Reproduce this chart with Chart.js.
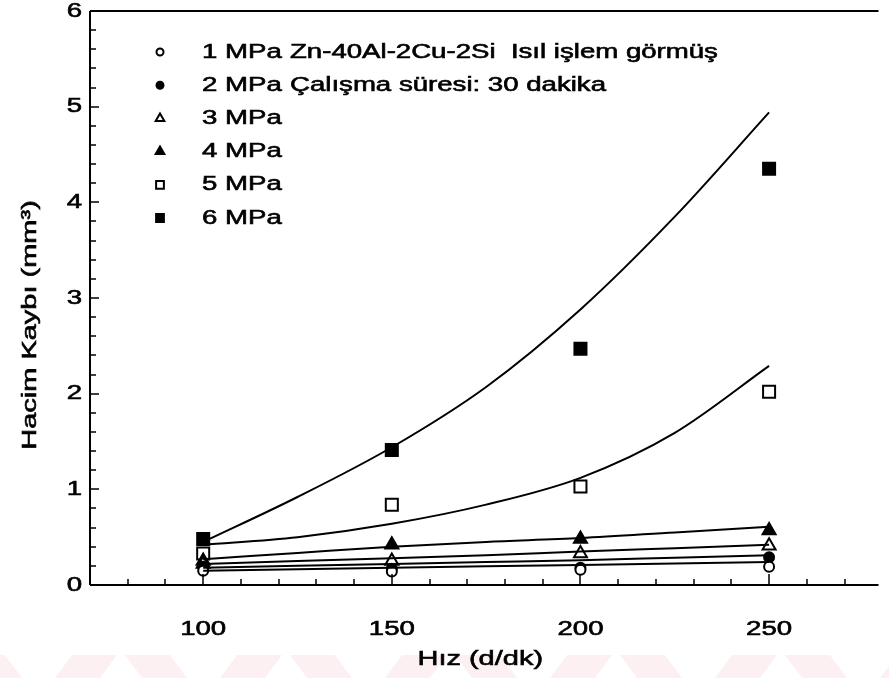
<!DOCTYPE html>
<html>
<head>
<meta charset="utf-8">
<script src="https://cdn.jsdelivr.net/npm/chart.js@4.4.1/dist/chart.umd.min.js"></script>
<style>
  html, body { margin: 0; padding: 0; background: #fff; overflow: hidden; }
  #wrap { position: relative; width: 889px; height: 678px; }
</style>
</head>
<body>
<div id="wrap"><canvas id="c" width="889" height="678"></canvas></div>
<script>
// Speed (d/dk) at which each load was tested
const hiz = [100, 150, 200, 250];

// Measured volume loss (mm3) per load
const mpa1 = [0.15, 0.14, 0.16, 0.19];
const mpa2 = [0.19, 0.17, 0.18, 0.29];
const mpa3 = [0.22, 0.25, 0.33, 0.41];
const mpa4 = [0.25, 0.42, 0.48, 0.57];
const mpa5 = [0.33, 0.84, 1.03, 2.02];
const mpa6 = [0.48, 1.41, 2.47, 4.35];

// Fitted trend curves, sampled along the speed axis
const fitHiz = [100, 125, 150, 175, 200, 225, 250];
const fit1 = [0.15, 0.165, 0.18, 0.195, 0.21, 0.225, 0.24];
const fit2 = [0.18, 0.20, 0.22, 0.24, 0.26, 0.285, 0.31];
const fit3 = [0.22, 0.25, 0.28, 0.31, 0.35, 0.385, 0.42];
const fit4 = [0.27, 0.335, 0.40, 0.45, 0.49, 0.55, 0.61];
const fit5 = [0.42, 0.50, 0.64, 0.84, 1.12, 1.59, 2.29];
const fit6 = [0.45, 0.92, 1.44, 2.07, 2.88, 3.85, 4.94];

// Axis labelling
const xTickLabels = [100, 150, 200, 250];
const yTickLabels = [0, 1, 2, 3, 4, 5, 6];
const seriesLabels = ['1 MPa', '2 MPa', '3 MPa', '4 MPa', '5 MPa', '6 MPa'];
const noteLines = ['Zn-40Al-2Cu-2Si  Isıl işlem görmüş', 'Çalışma süresi: 30 dakika'];
const xTitle = 'Hız (d/dk)';
const yTitle = 'Hacim Kaybı (mm³)';

const FONT = '"Liberation Sans", Arial, sans-serif';
const INK = '#000';
const TEXT_SIZE = 20;     // px
const TEXT_WIDEN = 1.38;  // the figure's lettering runs wide

const pts = (xs, ys) => xs.map((x, i) => ({ x: x, y: ys[i] }));

const markerStyles = [
  { pointStyle: 'circle',   radius: 5,   fill: '#fff' },
  { pointStyle: 'circle',   radius: 5,   fill: INK },
  { pointStyle: 'triangle', radius: 7.5, fill: '#fff' },
  { pointStyle: 'triangle', radius: 7.5, fill: INK },
  { pointStyle: 'rect',     radius: 8.5, fill: '#fff' },
  { pointStyle: 'rect',     radius: 8.5, fill: INK }
];

const measured = [mpa1, mpa2, mpa3, mpa4, mpa5, mpa6];
const fits = [fit1, fit2, fit3, fit4, fit5, fit6];

const datasets = [];
fits.forEach((f, i) => {
  datasets.push({
    label: 'fit ' + seriesLabels[i],
    data: pts(fitHiz, f),
    showLine: true,
    borderColor: INK,
    borderWidth: 2,
    pointRadius: 0,
    cubicInterpolationMode: 'monotone',
    fill: false,
    isFit: true
  });
});
measured.forEach((m, i) => {
  const s = markerStyles[i];
  datasets.push({
    label: seriesLabels[i],
    data: pts(hiz, m),
    showLine: false,
    pointStyle: s.pointStyle,
    pointRadius: s.radius,
    pointBackgroundColor: s.fill,
    pointBorderColor: INK,
    pointBorderWidth: 2,
    isFit: false
  });
});

// Widened text helper (a thin outline gives the printed weight)
function wideText(ctx, str, x, y, align, rotate, size) {
  ctx.save();
  ctx.translate(x, y);
  if (rotate) ctx.rotate(-Math.PI / 2);
  ctx.scale(TEXT_WIDEN, 1);
  ctx.font = (size || TEXT_SIZE) + 'px ' + FONT;
  ctx.fillStyle = INK;
  ctx.strokeStyle = INK;
  ctx.lineWidth = 0.6;
  ctx.textAlign = align;
  ctx.textBaseline = 'middle';
  ctx.fillText(str, 0, 0);
  ctx.strokeText(str, 0, 0);
  ctx.restore();
}

// Faint pink band along the bottom edge of the sheet
const sheetPlugin = {
  id: 'sheet',
  beforeDraw(chart) {
    const ctx = chart.ctx;
    ctx.save();
    ctx.fillStyle = 'rgba(236, 120, 135, 0.11)';
    const top = 655, bottom = 678;
    for (let bx = -40; bx < 900; bx += 165) {
      ctx.beginPath();
      ctx.moveTo(bx, top); ctx.lineTo(bx + 45, top);
      ctx.lineTo(bx + 62, bottom); ctx.lineTo(bx + 17, bottom);
      ctx.closePath(); ctx.fill();
      ctx.beginPath();
      ctx.moveTo(bx + 95, bottom); ctx.lineTo(bx + 140, bottom);
      ctx.lineTo(bx + 157, top); ctx.lineTo(bx + 112, top);
      ctx.closePath(); ctx.fill();
    }
    ctx.restore();
  }
};

// Axis frame with inward tick marks, tick labels, titles and legend block
const framePlugin = {
  id: 'frame',
  afterDatasetsDraw(chart) {
    const { ctx, chartArea: a, scales } = chart;
    const xs = scales.x, ys = scales.y;
    ctx.save();
    ctx.strokeStyle = INK;
    ctx.lineWidth = 2;
    ctx.beginPath();
    ctx.moveTo(a.left, a.top); ctx.lineTo(a.right, a.top);
    ctx.moveTo(a.left, a.top); ctx.lineTo(a.left, a.bottom);
    ctx.moveTo(a.left, a.bottom); ctx.lineTo(a.right, a.bottom);
    ctx.stroke();

    ctx.lineWidth = 1.5;
    ctx.beginPath();
    for (let v = 70; v <= xs.max; v += 10) {
      const px = Math.round(xs.getPixelForValue(v));
      const major = xTickLabels.includes(v);
      ctx.moveTo(px, a.bottom);
      ctx.lineTo(px, a.bottom - (major ? 11 : 6));
    }
    for (let k = 0; k <= 30; k++) {
      const v = k / 5;
      const py = Math.round(ys.getPixelForValue(v));
      const major = k % 5 === 0;
      ctx.moveTo(a.left, py);
      ctx.lineTo(a.left + (major ? 9 : 6), py);
    }
    ctx.stroke();

    // tick labels
    xTickLabels.forEach(v => wideText(ctx, String(v), xs.getPixelForValue(v), a.bottom + 44, 'center'));
    yTickLabels.forEach(v => wideText(ctx, String(v), a.left - 8, ys.getPixelForValue(v), 'right'));

    // axis titles
    wideText(ctx, xTitle, (a.left + a.right) / 2 - 4, 659, 'center', false, 21);
    wideText(ctx, yTitle, 30, 325, 'center', true, 21);

    // legend
    const mx = 160, tx = 202, nx = 290, y0 = 52, dy = 33.2;
    const dataSets = chart.data.datasets.filter(d => !d.isFit);
    dataSets.forEach((d, i) => {
      const y = y0 + i * dy;
      ctx.save();
      ctx.lineWidth = 2;
      ctx.strokeStyle = INK;
      ctx.fillStyle = d.pointBackgroundColor;
      const r = d.pointStyle === 'rect' ? 5.5 : (d.pointStyle === 'triangle' ? 5 : 3.5);
      Chart.helpers.drawPoint(ctx, { pointStyle: d.pointStyle, radius: r, borderWidth: 2 }, mx, y);
      ctx.restore();
      wideText(ctx, d.label, tx, y, 'left');
    });
    noteLines.forEach((t, i) => wideText(ctx, t, nx, y0 + i * dy, 'left'));
    ctx.restore();
  }
};

new Chart(document.getElementById('c'), {
  type: 'scatter',
  data: { datasets: datasets },
  options: {
    responsive: false,
    animation: false,
    events: [],
    layout: { padding: { top: 11, right: 0, left: 0, bottom: 0 } },
    plugins: { legend: { display: false }, tooltip: { enabled: false } },
    scales: {
      x: {
        type: 'linear',
        min: 70,
        max: 279,
        border: { display: false },
        grid: { display: false, drawTicks: false },
        ticks: { display: false },
        afterFit(scale) { scale.height = 93; }
      },
      y: {
        type: 'linear',
        min: 0,
        max: 6,
        border: { display: false },
        grid: { display: false, drawTicks: false },
        ticks: { display: false },
        afterFit(scale) { scale.width = 90; }
      }
    }
  },
  plugins: [sheetPlugin, framePlugin]
});
</script>
</body>
</html>
